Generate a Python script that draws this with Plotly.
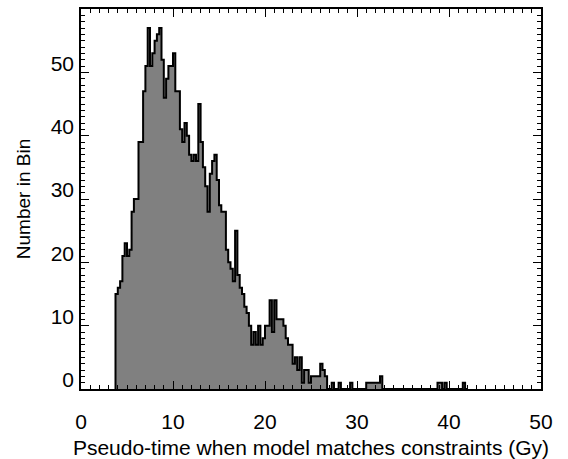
import numpy as np
import plotly.graph_objects as go

# Histogram data (bin width 0.25 Gy, first bin starts at 3.75 Gy)
bin_start = 3.75
bin_width = 0.25
counts = [
    15, 16, 17, 21, 23, 21, 22, 28, 30, 30,      # 3.75 - 6.0
    39, 39, 47, 51, 57, 51, 53, 55, 56, 57,      # 6.25 - 8.5
    52, 46, 49, 51, 51, 53, 47, 47, 41, 39,      # 8.75 - 11.0
    42, 40, 37, 36, 37, 36, 45, 39, 35, 32,      # 11.25 - 13.5
    28, 34, 36, 37, 33, 29, 28, 28, 22, 20,      # 13.75 - 16.0
    19, 17, 25, 18, 16, 15, 13, 12, 10, 7,       # 16.25 - 18.5
    9, 7, 10, 7, 8, 10, 10, 14, 9, 14,           # 18.75 - 21.0
    11, 11, 11, 10, 8, 7, 7, 4, 5, 3,            # 21.25 - 23.5
    5, 1, 3, 3, 1, 2, 2, 2, 2, 4,                # 23.75 - 26.0
    3, 2, 0, 0, 1, 0, 0, 1, 0, 0,                # 26.25 - 28.5
    0, 0, 1, 0, 0, 0, 0, 0, 0, 1,                # 28.75 - 31.0
    1, 1, 1, 1, 1, 2, 0, 0, 0, 0,                # 31.25 - 33.5
    0, 0, 0, 0, 0, 0, 0, 0, 0, 0,                # 33.75 - 36.0
    0, 0, 0, 0, 0, 0, 0, 0, 0, 0,                # 36.25 - 38.5
    1, 1, 0, 1, 0, 0, 0, 0, 0, 0,                # 38.75 - 41.0
    0, 1, 0,                                     # 41.25 - 41.75
]
x_tick_vals = [0, 10, 20, 30, 40, 50]
y_tick_vals = [0, 10, 20, 30, 40, 50]
x_title = "Pseudo-time when model matches constraints (Gy)"
y_title = "Number in Bin"

edges = bin_start + bin_width * np.arange(len(counts) + 1)
xs = [edges[0]] + list(edges[:-1]) + [edges[-1], edges[-1]]
ys = [0] + list(counts) + [counts[-1], 0]

fig = go.Figure(
    go.Scatter(
        x=xs, y=ys, mode="lines",
        line=dict(shape="hv", color="black", width=2),
        fill="tozeroy", fillcolor="#808080",
        hoverinfo="skip",
    )
)

font_family = "Liberation Sans, Arial, Helvetica, sans-serif"
fig.update_layout(
    width=568, height=459,
    margin=dict(l=81, r=27, t=9, b=70),
    paper_bgcolor="white", plot_bgcolor="white",
    showlegend=False,
    font=dict(family=font_family, size=21, color="black"),
)
fig.update_xaxes(
    range=[0, 50], tickmode="array", tickvals=x_tick_vals,
    ticks="inside", ticklen=8, tickwidth=1.2, tickcolor="black",
    showline=True, linecolor="black", linewidth=1.5, mirror="ticks",
    showgrid=False, zeroline=False, automargin=False,
    minor=dict(tick0=0, dtick=1, ticks="inside", ticklen=4, tickwidth=1,
               tickcolor="black", showgrid=False),
    ticklabelstandoff=13,
    title=dict(text=x_title, font=dict(size=21), standoff=13),
)
fig.update_yaxes(
    range=[0, 60], tickmode="array", tickvals=y_tick_vals,
    ticks="inside", ticklen=8, tickwidth=1.2, tickcolor="black",
    showline=True, linecolor="black", linewidth=1.5, mirror="ticks",
    showgrid=False, zeroline=False, automargin=False,
    minor=dict(tick0=0, dtick=1, ticks="inside", ticklen=4, tickwidth=1,
               tickcolor="black", showgrid=False),
    ticklabelshift=-9, ticklabelstandoff=1,
    title=dict(text=y_title, font=dict(size=19), standoff=15),
)

fig.write_html("out.html")
